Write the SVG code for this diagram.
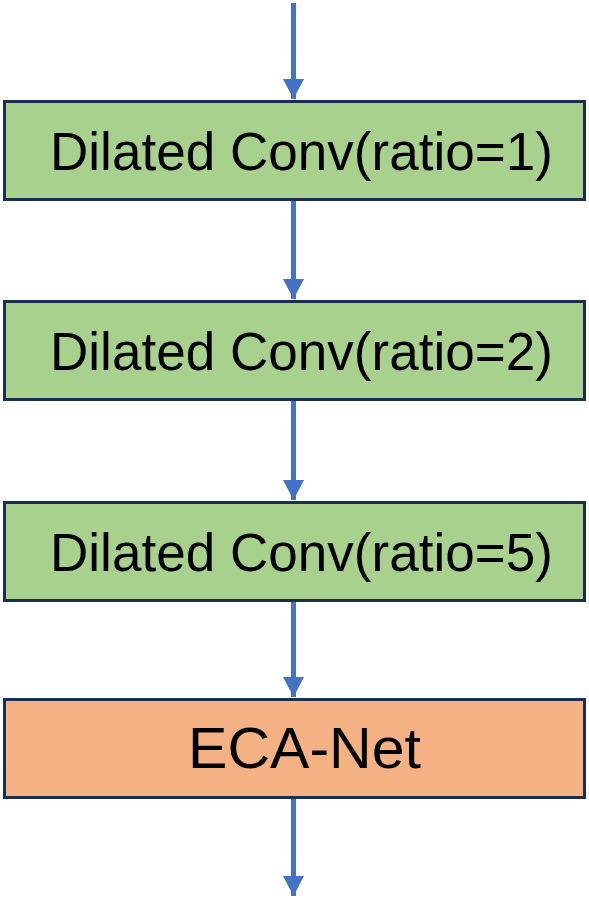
<svg xmlns="http://www.w3.org/2000/svg" width="589" height="900" viewBox="0 0 589 900">
<style>
.box{stroke:#1B2E4F;stroke-width:3}
.g{fill:#A9D18E}
.o{fill:#F4B183}
.t{font-family:"Liberation Sans",Arial,sans-serif;fill:#000}
.c{stroke:#4472C4;stroke-width:5;fill:none}
</style>
<defs>
<marker id="ah" markerUnits="userSpaceOnUse" markerWidth="22" markerHeight="21" refX="20" refY="10.5" orient="auto">
<path d="M0,0 L20,10.5 L0,21 Z" fill="#4472C4"/>
</marker>
</defs>
<g id="connectors">
<line class="c" x1="293.5" y1="3" x2="293.5" y2="99" marker-end="url(#ah)"/>
<line class="c" x1="293.5" y1="201" x2="293.5" y2="299" marker-end="url(#ah)"/>
<line class="c" x1="293.5" y1="401" x2="293.5" y2="500" marker-end="url(#ah)"/>
<line class="c" x1="293.5" y1="602" x2="293.5" y2="697" marker-end="url(#ah)"/>
<line class="c" x1="293.5" y1="799" x2="293.5" y2="896" marker-end="url(#ah)"/>
</g>
<g id="node1">
<rect class="box g" x="4.5" y="101.5" width="580" height="98"/>
<text class="t" x="50" y="170" font-size="53" textLength="503" lengthAdjust="spacingAndGlyphs">Dilated Conv(ratio=1)</text>
</g>
<g id="node2">
<rect class="box g" x="4.5" y="301.5" width="580" height="98"/>
<text class="t" x="50" y="370" font-size="53" textLength="503" lengthAdjust="spacingAndGlyphs">Dilated Conv(ratio=2)</text>
</g>
<g id="node3">
<rect class="box g" x="4.5" y="502.5" width="580" height="98"/>
<text class="t" x="50" y="571" font-size="53" textLength="503" lengthAdjust="spacingAndGlyphs">Dilated Conv(ratio=5)</text>
</g>
<g id="node4">
<rect class="box o" x="4.5" y="699.5" width="580" height="98"/>
<text class="t" x="188" y="768" font-size="57" textLength="233" lengthAdjust="spacingAndGlyphs">ECA-Net</text>
</g>
</svg>
